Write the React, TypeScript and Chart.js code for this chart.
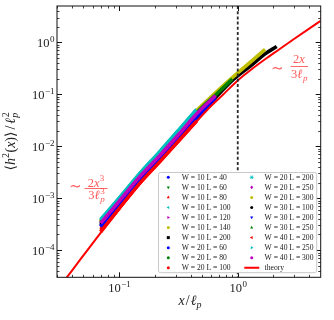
import React, { useEffect, useRef } from 'react';
import { Chart, registerables } from 'chart.js';
Chart.register(...registerables);

// ---- axis ranges & ticks ----
const X_MIN = 0.03, X_MAX = 5;
const Y_MIN = 3e-5, Y_MAX = 5;
const xMajorTicks = [0.1, 1];
const xMajorExp = [-1, 0];
const yMajorTicks = [1e-4, 1e-3, 1e-2, 1e-1, 1];
const yMajorExp = [-4, -3, -2, -1, 0];

// ---- data (x/lp grid shared by all simulation series) ----
const xGrid = [0.07, 0.1, 0.15, 0.22, 0.32, 0.45, 0.65, 0.9, 1.3, 1.7, 2.13];

const y_W10_L40 = [2.95e-4, 7.8e-4, 2.37e-3, 5.8e-3, 0.015];
const y_W10_L60 = [3.24e-4, 8.5e-4, 2.57e-3, 6.45e-3, 0.0168, 0.0407];
const y_W10_L80 = [2.5e-4, 7.0e-4, 2.12e-3, 5.5e-3, 0.0142, 0.0335, 0.079];
const y_W10_L100 = [3.9e-4, 1.0e-3, 3.02e-3, 7.9e-3, 0.0209, 0.0513];
const y_W10_L120 = [3.55e-4, 9.2e-4, 2.79e-3, 7.2e-3, 0.0187, 0.0457, 0.1];
const y_W10_L140 = [3.7e-4, 9.5e-4, 2.88e-3, 7.5e-3, 0.0196, 0.048, 0.104, 0.205, 0.42];
const y_W10_L200 = [2.9e-4, 7.7e-4, 2.33e-3, 5.75e-3, 0.0148, 0.036, 0.0865, 0.184, 0.36, 0.6, 0.83];
const y_W20_L60 = [2.8e-4, 7.5e-4, 2.28e-3, 5.5e-3];
const y_W20_L80 = [3.45e-4, 9.0e-4, 2.72e-3, 7.0e-3, 0.0182];
const y_W20_L100 = [2.3e-4, 6.4e-4, 1.98e-3, 5.1e-3, 0.0131, 0.031];
const y_W20_L200 = [3.8e-4, 9.8e-4, 2.96e-3, 7.7e-3, 0.0204, 0.05];
const y_W20_L250 = [3.24e-4, 8.5e-4, 2.57e-3, 6.45e-3, 0.0168, 0.0407, 0.0933];
const y_W20_L300 = [3.5e-4, 9.1e-4, 2.75e-3, 7.1e-3, 0.0185, 0.0475, 0.107, 0.209, 0.431, 0.733];
const y_W30_L100 = [3.1e-4, 8.2e-4, 2.48e-3, 6.2e-3, 0.0161];
const y_W30_L200 = [2.85e-4, 7.6e-4, 2.3e-3, 5.6e-3, 0.0145, 0.0352, 0.085];
const y_W30_L250 = [3.4e-4, 8.9e-4, 2.7e-3, 6.9e-3, 0.018, 0.044, 0.097, 0.196];
const y_W40_L200 = [2.25e-4, 6.3e-4, 1.95e-3, 5.0e-3, 0.0129, 0.0305];
const y_W40_L250 = [3.75e-4, 9.7e-4, 2.93e-3, 7.6e-3, 0.0201, 0.0493];
const y_W40_L300 = [3.3e-4, 8.7e-4, 2.62e-3, 6.6e-3, 0.0172, 0.042, 0.095];

const seriesLabels = [
  'W = 10 L = 40', 'W = 10 L = 60', 'W = 10 L = 80', 'W = 10 L = 100', 'W = 10 L = 120',
  'W = 10 L = 140', 'W = 10 L = 200', 'W = 20 L = 60', 'W = 20 L = 80', 'W = 20 L = 100',
  'W = 20 L = 200', 'W = 20 L = 250', 'W = 20 L = 300', 'W = 30 L = 100', 'W = 30 L = 200',
  'W = 30 L = 250', 'W = 40 L = 200', 'W = 40 L = 250', 'W = 40 L = 300',
];
const seriesValues = [
  y_W10_L40, y_W10_L60, y_W10_L80, y_W10_L100, y_W10_L120, y_W10_L140, y_W10_L200,
  y_W20_L60, y_W20_L80, y_W20_L100, y_W20_L200, y_W20_L250, y_W20_L300,
  y_W30_L100, y_W30_L200, y_W30_L250, y_W40_L200, y_W40_L250, y_W40_L300,
];
const B = '#0000ff', G = '#008000', RD = '#ff0000', C = '#00bfbf', M = '#bf00bf', Y = '#bfbf00', K = '#000000';
const seriesColors = [B, G, RD, C, M, Y, K, B, G, RD, C, M, Y, K, B, G, RD, C, M];
const seriesMarkers = [
  'circle', 'triDown', 'triUp', 'triLeft', 'triRight', 'circle', 'square', 'circle', 'circle', 'circle',
  'star', 'diamond', 'circle', 'circle', 'triDown', 'triUp', 'triLeft', 'triRight', 'circle',
];

const theoryX = [0.03, 0.04, 0.055, 0.075, 0.1, 0.15, 0.22, 0.35, 0.55, 0.75, 1.0, 1.3, 1.7, 2.2, 3.0, 4.0, 5.0];
const theoryY = [1.7e-5, 4.0e-5, 1.05e-4, 2.64e-4, 6.1e-4, 1.9e-3, 4.9e-3, 0.0158, 0.0494, 0.098, 0.185, 0.3, 0.472, 0.713, 1.17, 1.84, 2.6];

// ---- text helpers ----
const SERIF = '"Liberation Serif","DejaVu Serif","DejaVu Sans",serif';
const R = (s: number) => `${s}px ${SERIF}`;
const I = (s: number) => `italic ${s}px ${SERIF}`;
type Run = { t: string; f: string; dy?: number; pre?: number; post?: number; stay?: boolean };

function runsWidth(ctx: CanvasRenderingContext2D, runs: Run[]) {
  let w = 0;
  for (const r of runs) {
    ctx.font = r.f;
    if (!r.stay) w += ctx.measureText(r.t).width + (r.pre || 0) + (r.post || 0);
  }
  return w;
}
function drawRuns(ctx: CanvasRenderingContext2D, runs: Run[], x: number, y: number, align: string) {
  const w = runsWidth(ctx, runs);
  let cx = align === 'center' ? x - w / 2 : align === 'right' ? x - w : x;
  ctx.textAlign = 'left';
  ctx.textBaseline = 'alphabetic';
  for (const r of runs) {
    ctx.font = r.f;
    ctx.fillText(r.t, cx + (r.pre || 0), y + (r.dy || 0));
    if (!r.stay) cx += ctx.measureText(r.t).width + (r.pre || 0) + (r.post || 0);
  }
}
function powRuns(e: number): Run[] {
  return [
    { t: '10', f: R(12.5) },
    { t: e < 0 ? '\u2212' + Math.abs(e) : String(e), f: R(9), dy: -5, pre: 0.5 },
  ];
}

function drawMarker(ctx: CanvasRenderingContext2D, kind: string, x: number, y: number, r: number, color: string) {
  ctx.save();
  ctx.fillStyle = color;
  ctx.strokeStyle = color;
  ctx.beginPath();
  const tri = (ang: number) => {
    for (let k = 0; k < 3; k++) {
      const a = ang + (k * 2 * Math.PI) / 3;
      const px = x + r * 1.2 * Math.cos(a), py = y + r * 1.2 * Math.sin(a);
      if (k === 0) ctx.moveTo(px, py); else ctx.lineTo(px, py);
    }
    ctx.closePath();
    ctx.fill();
  };
  if (kind === 'circle') { ctx.arc(x, y, r, 0, Math.PI * 2); ctx.fill(); }
  else if (kind === 'square') { ctx.fillRect(x - r, y - r, 2 * r, 2 * r); }
  else if (kind === 'triUp') tri(-Math.PI / 2);
  else if (kind === 'triDown') tri(Math.PI / 2);
  else if (kind === 'triLeft') tri(Math.PI);
  else if (kind === 'triRight') tri(0);
  else if (kind === 'diamond') {
    ctx.moveTo(x, y - r * 1.3); ctx.lineTo(x + r, y); ctx.lineTo(x, y + r * 1.3); ctx.lineTo(x - r, y); ctx.closePath(); ctx.fill();
  } else if (kind === 'star') {
    ctx.lineWidth = 0.9;
    for (let k = 0; k < 3; k++) {
      const a = (k * Math.PI) / 3;
      ctx.moveTo(x - r * 1.3 * Math.cos(a), y - r * 1.3 * Math.sin(a));
      ctx.lineTo(x + r * 1.3 * Math.cos(a), y + r * 1.3 * Math.sin(a));
    }
    ctx.stroke();
  }
  ctx.restore();
}

const overlay = {
  id: 'overlay',
  afterDatasetsDraw(chart: any) {
    const ctx: CanvasRenderingContext2D = chart.ctx;
    const { left, right, top, bottom } = chart.chartArea;
    const xs = chart.scales.x, ys = chart.scales.y;
    ctx.save();

    // vertical dotted line at x = 1
    const x1 = xs.getPixelForValue(1);
    ctx.strokeStyle = '#2a2a2a';
    ctx.lineWidth = 1.8;
    ctx.setLineDash([3, 2.2]);
    ctx.beginPath();
    ctx.moveTo(x1, top);
    ctx.lineTo(x1, bottom);
    ctx.stroke();
    ctx.setLineDash([]);

    // frame
    ctx.strokeStyle = '#111';
    ctx.lineWidth = 1;
    ctx.strokeRect(left, top, right - left, bottom - top);

    // ticks (inward on all sides)
    ctx.strokeStyle = '#111';
    const tickX = (v: number, len: number) => {
      const p = Math.round(xs.getPixelForValue(v)) + 0.5;
      ctx.beginPath();
      ctx.moveTo(p, bottom); ctx.lineTo(p, bottom - len);
      ctx.moveTo(p, top); ctx.lineTo(p, top + len);
      ctx.stroke();
    };
    const tickY = (v: number, len: number) => {
      const p = Math.round(ys.getPixelForValue(v)) + 0.5;
      ctx.beginPath();
      ctx.moveTo(left, p); ctx.lineTo(left + len, p);
      ctx.moveTo(right, p); ctx.lineTo(right - len, p);
      ctx.stroke();
    };
    ctx.lineWidth = 0.8;
    for (let e = -2; e <= 0; e++) for (let m = 2; m <= 9; m++) {
      const v = m * Math.pow(10, e);
      if (v > X_MIN * 0.999 && v < X_MAX * 0.999) tickX(v, 2.5);
    }
    for (let e = -5; e <= 0; e++) for (let m = 2; m <= 9; m++) {
      const v = m * Math.pow(10, e);
      if (v > Y_MIN * 1.001 && v < Y_MAX * 0.999) tickY(v, 2.5);
    }
    ctx.lineWidth = 1;
    xMajorTicks.forEach((v) => tickX(v, 5));
    yMajorTicks.forEach((v) => tickY(v, 5));

    // tick labels
    ctx.fillStyle = '#222';
    xMajorTicks.forEach((v, i) => drawRuns(ctx, powRuns(xMajorExp[i]), xs.getPixelForValue(v) + 0.5, 291.7, 'center'));
    yMajorTicks.forEach((v, i) => drawRuns(ctx, powRuns(yMajorExp[i]), 54.5, ys.getPixelForValue(v) + 4.6, 'right'));

    // axis titles
    drawRuns(ctx, [
      { t: 'x', f: I(14) },
      { t: '/', f: R(14), pre: 1, post: 1 },
      { t: '\u2113', f: I(14) },
      { t: 'p', f: I(10), dy: 3 },
    ], 190, 305, 'center');
    ctx.save();
    ctx.translate(10, (top + bottom) / 2);
    ctx.rotate(-Math.PI / 2);
    drawRuns(ctx, [
      { t: '\u27E8', f: R(14) },
      { t: 'h', f: I(14) },
      { t: '2', f: R(10), dy: -5.5 },
      { t: '(', f: R(14), pre: 0.5 },
      { t: 'x', f: I(14) },
      { t: ')', f: R(14) },
      { t: '\u27E9', f: R(14) },
      { t: '/', f: R(14), pre: 2, post: 2 },
      { t: '\u2113', f: I(14) },
      { t: '2', f: R(10), dy: -6, stay: true, pre: 0.5 },
      { t: 'p', f: I(10), dy: 3 },
    ], 0, 4.5, 'center');
    ctx.restore();

    // annotations
    const red = 'rgba(255,40,40,0.78)';
    ctx.fillStyle = red;
    ctx.strokeStyle = red;
    ctx.font = R(15);
    ctx.textAlign = 'center';
    ctx.textBaseline = 'middle';
    ctx.fillText('\u223C', 75.3, 187);
    drawRuns(ctx, [{ t: '2', f: R(12.5) }, { t: 'x', f: I(12.5) }, { t: '3', f: R(9), dy: -5.5 }], 96, 186.5, 'center');
    ctx.lineWidth = 0.9;
    ctx.beginPath(); ctx.moveTo(84.5, 188.5); ctx.lineTo(107.5, 188.5); ctx.stroke();
    drawRuns(ctx, [
      { t: '3', f: R(12.5) }, { t: '\u2113', f: I(12.5) },
      { t: '3', f: R(9), dy: -4.5, stay: true, pre: 0.5 }, { t: 'p', f: I(9), dy: 3, pre: 0.5 },
    ], 96.5, 198.5, 'center');

    ctx.font = R(15);
    ctx.textAlign = 'center';
    ctx.textBaseline = 'middle';
    ctx.fillText('\u223C', 277.3, 68.6);
    drawRuns(ctx, [{ t: '2', f: R(12.5) }, { t: 'x', f: I(12.5) }], 298.8, 63.3, 'center');
    ctx.beginPath(); ctx.moveTo(290.7, 66.5); ctx.lineTo(308, 66.5); ctx.stroke();
    drawRuns(ctx, [{ t: '3', f: R(12.5) }, { t: '\u2113', f: I(12.5) }, { t: 'p', f: I(9), dy: 3, pre: 0.5 }], 299.3, 77.5, 'center');

    // legend
    const lx0 = 158.5, ly0 = 172.5, lx1 = 316.7, ly1 = 272.7;
    ctx.fillStyle = '#ffffff';
    ctx.strokeStyle = '#c8c8c8';
    ctx.lineWidth = 1;
    ctx.beginPath();
    (ctx as any).roundRect ? (ctx as any).roundRect(lx0, ly0, lx1 - lx0, ly1 - ly0, 2) : ctx.rect(lx0, ly0, lx1 - lx0, ly1 - ly0);
    ctx.fill();
    ctx.stroke();
    const rowY = (r: number) => 177.3 + 10.05 * r;
    seriesLabels.forEach((lab, i) => {
      const col = i < 10 ? 0 : 1;
      const row = i < 10 ? i : i - 10;
      const mx = col === 0 ? 168.3 : 251.7;
      const tx = col === 0 ? 181.7 : 264.6;
      drawMarker(ctx, seriesMarkers[i], mx, rowY(row), 1.5, seriesColors[i]);
      ctx.fillStyle = '#1a1a1a';
      ctx.font = R(7.6);
      ctx.textAlign = 'left';
      ctx.textBaseline = 'middle';
      ctx.fillText(lab, tx, rowY(row) + 0.5);
    });
    ctx.strokeStyle = '#ff0000';
    ctx.lineWidth = 2;
    ctx.beginPath(); ctx.moveTo(244.3, rowY(9)); ctx.lineTo(259.3, rowY(9)); ctx.stroke();
    ctx.fillStyle = '#1a1a1a';
    ctx.font = R(7.6);
    ctx.textAlign = 'left';
    ctx.textBaseline = 'middle';
    ctx.fillText('theory', 264.6, rowY(9) + 0.5);

    ctx.restore();
  },
};

export default function App() {
  const ref = useRef<HTMLCanvasElement | null>(null);
  useEffect(() => {
    if (!ref.current) return;
    const datasets: any[] = seriesValues.map((vals, i) => ({
      label: seriesLabels[i],
      data: vals.map((v, j) => ({ x: xGrid[j], y: v })),
      borderColor: seriesColors[i],
      backgroundColor: seriesColors[i],
      borderWidth: 3.5,
      pointRadius: 0,
      fill: false,
      order: 100 - i,
      clip: 0,
      cubicInterpolationMode: 'monotone',
    }));
    datasets.push({
      label: 'theory',
      data: theoryX.map((v, j) => ({ x: v, y: theoryY[j] })),
      borderColor: '#ff0000',
      backgroundColor: '#ff0000',
      borderWidth: 2,
      pointRadius: 0,
      fill: false,
      order: 0,
      clip: 0,
      cubicInterpolationMode: 'monotone',
    });
    const chart = new Chart(ref.current, {
      type: 'line',
      data: { datasets },
      options: {
        responsive: false,
        animation: false,
        events: [],
        devicePixelRatio: 1,
        layout: { padding: { left: 57, top: 6, right: 13.3, bottom: 42.7 } },
        plugins: { legend: { display: false }, tooltip: { enabled: false } },
        scales: {
          x: { type: 'logarithmic', min: X_MIN, max: X_MAX, display: false },
          y: { type: 'logarithmic', min: Y_MIN, max: Y_MAX, display: false },
        },
      },
      plugins: [overlay],
    } as any);
    return () => chart.destroy();
  }, []);
  return (
    <div style={{ position: 'absolute', left: 0, top: 0, width: 334, height: 320, background: '#fff' }}>
      <canvas ref={ref} width={334} height={320} style={{ display: 'block' }} />
    </div>
  );
}
